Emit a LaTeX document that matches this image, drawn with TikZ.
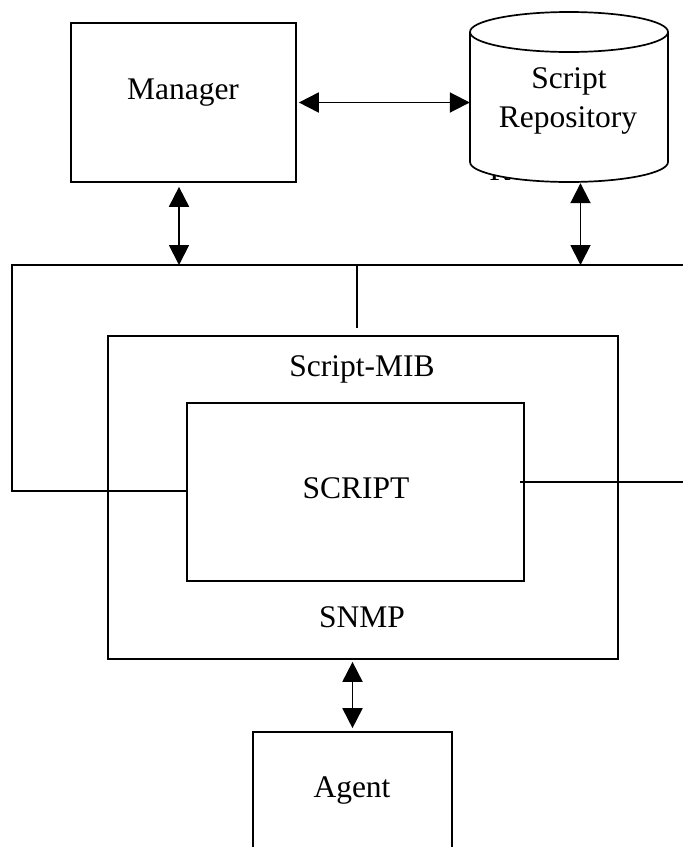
\documentclass[tikz,border=0pt]{standalone}
\usepackage{fontspec}
\setmainfont{Liberation Serif}
\usetikzlibrary{arrows.meta}
\begin{document}
\begin{tikzpicture}[x=1pt,y=-1pt,
  wire/.style={line width=1.7pt},
  box/.style={draw,line width=1.7pt,inner sep=0pt},
  link/.style={line width=1.9pt,{Triangle[length=20pt,width=20pt]}-{Triangle[length=20pt,width=20pt]}},
  lbl/.style={font=\fontsize{31.5}{36}\selectfont,inner sep=0pt,anchor=base}]
\clip (0,0) rectangle (683,847);
\fill[white] (0,0) rectangle (683,847);

% Manager
\node[box,minimum width=225,minimum height=159] (mgr) at (183.5,102.5) {};
\node[lbl] (mgrtxt) at (183,99) {Manager};

% Script repository (cylinder drawn by hand around an invisible frame)
\node[minimum width=198,minimum height=170,inner sep=0pt] (repo) at (569,97) {};
\node[lbl] (ghost) at (500,180) {R};
\fill[white] (470,32) rectangle (668,162);
\fill[white] (569,162) ellipse [x radius=99pt,y radius=20pt];
\draw[wire] (470,32) -- (470,162)
  .. controls (470,173.05) and (514.3,182) .. (569,182)
  .. controls (623.7,182) and (668,173.05) .. (668,162) -- (668,32);
\draw[wire] (569,32) ellipse [x radius=99pt,y radius=20pt];
\node[lbl] (repotxt1) at (569,88) {Script};
\node[lbl] (repotxt2) at (568,127) {Repository};

% Script-MIB with SCRIPT inside
\node[box,minimum width=510,minimum height=323] (mib) at (363,497.5) {};
\node[box,minimum width=337,minimum height=178] (script) at (355.5,492) {};
\node[lbl] (mibtxt) at (362,376) {Script-MIB};
\node[lbl] (scripttxt) at (356,498) {SCRIPT};
\node[lbl] (snmptxt) at (362,627) {SNMP};

% Agent
\node[box,minimum width=199,minimum height=140] (agent) at (352.5,802) {};
\node[lbl] (agenttxt) at (352,797) {Agent};

% bus and wiring
\coordinate (busL) at (12,265);
\coordinate (busR) at (690,265);
\coordinate (lftturn) at (12,491);
\coordinate (rgt) at (690,482);
\coordinate (tap) at (357,265);
\coordinate (tapend) at (357,328);
\coordinate (mgrtap) at (179,265);
\coordinate (repotap) at (580.5,265);

\draw[wire] (busR) -- (busL) -- (lftturn) -- (lftturn -| script.west);
\draw[wire] ([xshift=-5pt]rgt -| script.east) -- (rgt);
\draw[wire] (tap) -- (tapend);

% arrows
\draw[link] ([xshift=2pt]mgr.east) -- (mgr.east -| repo.west);
\draw[link] ([xshift=-4.5pt,yshift=-4pt]mgr.south) -- (mgrtap);
\draw[link] ([xshift=11.5pt,yshift=-1pt]repo.south) -- (repotap);
\draw[link,shorten <=2pt,shorten >=3pt] (mib.south -| agent.north) -- (agent.north);
\end{tikzpicture}
\end{document}
